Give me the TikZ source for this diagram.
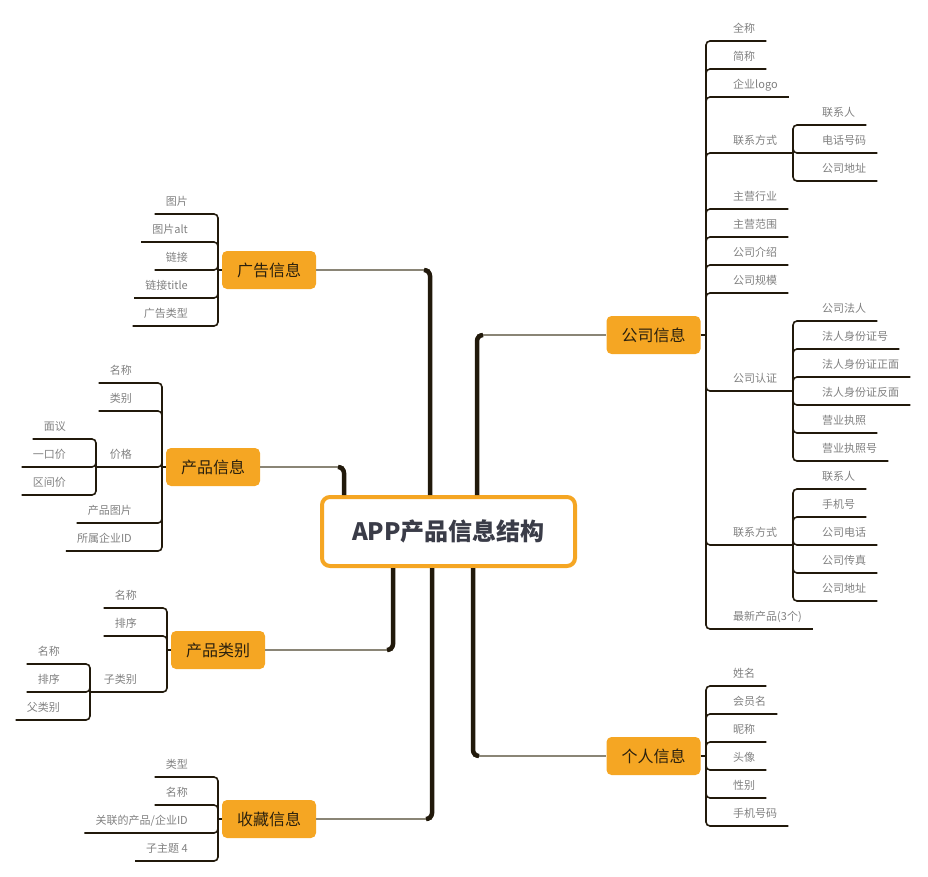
\documentclass[tikz,border=0pt]{standalone}
\usepackage{fontspec}
\setmainfont{Noto Sans CJK SC}
\usepackage{xcolor}
\usepackage{tikz}
\usetikzlibrary{calc, positioning}

\definecolor{topicorange}{HTML}{F5A623}
\definecolor{trunkbrown}{HTML}{21190B}
\definecolor{twiggray}{HTML}{8A8576}
\definecolor{leafgray}{HTML}{808080}
\definecolor{titleink}{HTML}{3A3C48}
\definecolor{topicink}{HTML}{2A200E}

\begin{document}
\begin{tikzpicture}[
    x=1pt, y=-1pt,
    root/.style={draw=topicorange, line width=4pt, fill=white, rounded corners=8pt, minimum width=253pt, minimum height=69pt, font=\fontsize{24}{28}\selectfont\bfseries, text=titleink},
    topic/.style={fill=topicorange, rounded corners=5pt, minimum width=94pt, minimum height=38pt, inner sep=0pt, font=\fontsize{16}{19}\selectfont, text=topicink},
    leaf/.style={inner xsep=11pt, inner ysep=4pt, text height=8pt, text depth=4pt, font=\fontsize{11}{13}\selectfont, text=leafgray},
    trunk/.style={draw=trunkbrown, line width=4.5pt, rounded corners=6pt},
    twig/.style={draw=twiggray, line width=2pt},
    branch/.style={draw=trunkbrown, line width=1.6pt, rounded corners=4pt}
]
    \useasboundingbox (0,0) rectangle (928,877);

    \node [root] (app) at (448.5,531.5) {APP产品信息结构};

    \node [topic] (ad) at (269,270) {广告信息};
    \node [topic] (pi) at (213,467) {产品信息};
    \node [topic] (pc) at (218,650) {产品类别};
    \node [topic] (fav) at (269,819) {收藏信息};
    \node [topic] (co) at (653.5,335) {公司信息};
    \node [topic] (me) at (653.5,756) {个人信息};

    \coordinate (adk) at (430,270);
    \coordinate (pik) at (344,467);
    \coordinate (pck) at (393,650);
    \coordinate (favk) at (432,819);
    \coordinate (cok) at (477,335);
    \coordinate (mek) at (473,756);

    \draw [twig] (adk) -- (ad.east);
    \draw [twig] (pik) -- (pi.east);
    \draw [twig] (pck) -- (pc.east);
    \draw [twig] (favk) -- (fav.east);
    \draw [twig] (cok) -- (co.west);
    \draw [twig] (mek) -- (me.west);
    \draw [trunk] (app.north -| adk) -- (adk) -- ++(-6,0);
    \draw [trunk] (app.north -| pik) -- (pik) -- ++(-6,0);
    \draw [trunk] (app.south -| pck) -- (pck) -- ++(-6,0);
    \draw [trunk] (app.south -| favk) -- (favk) -- ++(-6,0);
    \draw [trunk] (app.north -| cok) -- (cok) -- ++(6,0);
    \draw [trunk] (app.south -| mek) -- (mek) -- ++(6,0);

    % 公司信息
    \coordinate (cob) at (706,335);
    \node [leaf, anchor=south west] (co1) at (722,41) {全称};
    \node [leaf, anchor=south west] (co2) at (722,69) {简称};
    \node [leaf, anchor=south west] (co3) at (722,97) {企业logo};
    \node [leaf, anchor=south west] (co4) at (722,153) {联系方式};
    \node [leaf, anchor=south west] (co5) at (722,209) {主营行业};
    \node [leaf, anchor=south west] (co6) at (722,237) {主营范围};
    \node [leaf, anchor=south west] (co7) at (722,265) {公司介绍};
    \node [leaf, anchor=south west] (co8) at (722,293) {公司规模};
    \node [leaf, anchor=south west] (co9) at (722,391) {公司认证};
    \node [leaf, anchor=south west] (co10) at (722,545) {联系方式};
    \node [leaf, anchor=south west] (co11) at (722,629) {最新产品(3个)};

    \coordinate (co4b) at (793,153);
    \node [leaf, anchor=south west] (co4a) at (811,125) {联系人};
    \node [leaf, anchor=south west] (co4c) at (811,153) {电话号码};
    \node [leaf, anchor=south west] (co4d) at (811,181) {公司地址};

    \coordinate (co9b) at (793,391);
    \node [leaf, anchor=south west] (co9a) at (811,321) {公司法人};
    \node [leaf, anchor=south west] (co9c) at (811,349) {法人身份证号};
    \node [leaf, anchor=south west] (co9d) at (811,377) {法人身份证正面};
    \node [leaf, anchor=south west] (co9e) at (811,405) {法人身份证反面};
    \node [leaf, anchor=south west] (co9f) at (811,433) {营业执照};
    \node [leaf, anchor=south west] (co9g) at (811,461) {营业执照号};

    \coordinate (co10b) at (793,545);
    \node [leaf, anchor=south west] (co10a) at (811,489) {联系人};
    \node [leaf, anchor=south west] (co10c) at (811,517) {手机号};
    \node [leaf, anchor=south west] (co10d) at (811,545) {公司电话};
    \node [leaf, anchor=south west] (co10e) at (811,573) {公司传真};
    \node [leaf, anchor=south west] (co10f) at (811,601) {公司地址};

    \draw [branch] (co.east) -- (cob);
    \draw [branch] (cob) |- (co1.south east);
    \draw [branch] (cob) |- (co2.south east);
    \draw [branch] (cob) |- (co3.south east);
    \draw [branch] (cob) |- (co4.south east);
    \draw [branch] (cob) |- (co5.south east);
    \draw [branch] (cob) |- (co6.south east);
    \draw [branch] (cob) |- (co7.south east);
    \draw [branch] (cob) |- (co8.south east);
    \draw [branch] (cob) |- (co9.south east);
    \draw [branch] (cob) |- (co10.south east);
    \draw [branch] (cob) |- (co11.south east);
    \draw [branch] (co4.south east) -- (co4b);
    \draw [branch] (co4b) |- (co4a.south east);
    \draw [branch] (co4b) |- (co4c.south east);
    \draw [branch] (co4b) |- (co4d.south east);
    \draw [branch] (co9.south east) -- (co9b);
    \draw [branch] (co9b) |- (co9a.south east);
    \draw [branch] (co9b) |- (co9c.south east);
    \draw [branch] (co9b) |- (co9d.south east);
    \draw [branch] (co9b) |- (co9e.south east);
    \draw [branch] (co9b) |- (co9f.south east);
    \draw [branch] (co9b) |- (co9g.south east);
    \draw [branch] (co10.south east) -- (co10b);
    \draw [branch] (co10b) |- (co10a.south east);
    \draw [branch] (co10b) |- (co10c.south east);
    \draw [branch] (co10b) |- (co10d.south east);
    \draw [branch] (co10b) |- (co10e.south east);
    \draw [branch] (co10b) |- (co10f.south east);

    % 个人信息
    \coordinate (meb) at (706,756);
    \node [leaf, anchor=south west] (me1) at (722,686) {姓名};
    \node [leaf, anchor=south west] (me2) at (722,714) {会员名};
    \node [leaf, anchor=south west] (me3) at (722,742) {昵称};
    \node [leaf, anchor=south west] (me4) at (722,770) {头像};
    \node [leaf, anchor=south west] (me5) at (722,798) {性别};
    \node [leaf, anchor=south west] (me6) at (722,826) {手机号码};
    \draw [branch] (me.east) -- (meb);
    \draw [branch] (meb) |- (me1.south east);
    \draw [branch] (meb) |- (me2.south east);
    \draw [branch] (meb) |- (me3.south east);
    \draw [branch] (meb) |- (me4.south east);
    \draw [branch] (meb) |- (me5.south east);
    \draw [branch] (meb) |- (me6.south east);

    % 广告信息
    \coordinate (adb) at (218,270);
    \node [leaf, anchor=south east] (ad1) at (199,214) {图片};
    \node [leaf, anchor=south east] (ad2) at (199,242) {图片alt};
    \node [leaf, anchor=south east] (ad3) at (199,270) {链接};
    \node [leaf, anchor=south east] (ad4) at (199,298) {链接title};
    \node [leaf, anchor=south east] (ad5) at (199,326) {广告类型};
    \draw [branch] (ad.west) -- (adb);
    \draw [branch] (adb) |- (ad1.south west);
    \draw [branch] (adb) |- (ad2.south west);
    \draw [branch] (adb) |- (ad3.south west);
    \draw [branch] (adb) |- (ad4.south west);
    \draw [branch] (adb) |- (ad5.south west);

    % 产品信息
    \coordinate (pib) at (162,467);
    \node [leaf, anchor=south east] (pi1) at (143,383) {名称};
    \node [leaf, anchor=south east] (pi2) at (143,411) {类别};
    \node [leaf, anchor=south east] (pi3) at (143,467) {价格};
    \node [leaf, anchor=south east] (pi4) at (143,523) {产品图片};
    \node [leaf, anchor=south east] (pi5) at (143,551) {所属企业ID};
    \coordinate (pi3b) at (96,467);
    \node [leaf, anchor=south east] (pi3a) at (77,439) {面议};
    \node [leaf, anchor=south east] (pi3c) at (77,467) {一口价};
    \node [leaf, anchor=south east] (pi3d) at (77,495) {区间价};
    \draw [branch] (pi.west) -- (pib);
    \draw [branch] (pib) |- (pi1.south west);
    \draw [branch] (pib) |- (pi2.south west);
    \draw [branch] (pib) |- (pi3.south west);
    \draw [branch] (pib) |- (pi4.south west);
    \draw [branch] (pib) |- (pi5.south west);
    \draw [branch] (pi3.south west) -- (pi3b);
    \draw [branch] (pi3b) |- (pi3a.south west);
    \draw [branch] (pi3b) |- (pi3c.south west);
    \draw [branch] (pi3b) |- (pi3d.south west);

    % 产品类别
    \coordinate (pcb) at (167,650);
    \node [leaf, anchor=south east] (pc1) at (148,608) {名称};
    \node [leaf, anchor=south east] (pc2) at (148,636) {排序};
    \node [leaf, anchor=south east] (pc3) at (148,692) {子类别};
    \coordinate (pc3b) at (90,692);
    \node [leaf, anchor=south east] (pc3a) at (71,664) {名称};
    \node [leaf, anchor=south east] (pc3c) at (71,692) {排序};
    \node [leaf, anchor=south east] (pc3d) at (71,720) {父类别};
    \draw [branch] (pc.west) -- (pcb);
    \draw [branch] (pcb) |- (pc1.south west);
    \draw [branch] (pcb) |- (pc2.south west);
    \draw [branch] (pcb) |- (pc3.south west);
    \draw [branch] (pc3.south west) -- (pc3b);
    \draw [branch] (pc3b) |- (pc3a.south west);
    \draw [branch] (pc3b) |- (pc3c.south west);
    \draw [branch] (pc3b) |- (pc3d.south west);

    % 收藏信息
    \coordinate (favb) at (218,819);
    \node [leaf, anchor=south east] (fav1) at (199,777) {类型};
    \node [leaf, anchor=south east] (fav2) at (199,805) {名称};
    \node [leaf, anchor=south east] (fav3) at (199,833) {关联的产品/企业ID};
    \node [leaf, anchor=south east] (fav4) at (199,861) {子主题 4};
    \draw [branch] (fav.west) -- (favb);
    \draw [branch] (favb) |- (fav1.south west);
    \draw [branch] (favb) |- (fav2.south west);
    \draw [branch] (favb) |- (fav3.south west);
    \draw [branch] (favb) |- (fav4.south west);
\end{tikzpicture}
\end{document}
